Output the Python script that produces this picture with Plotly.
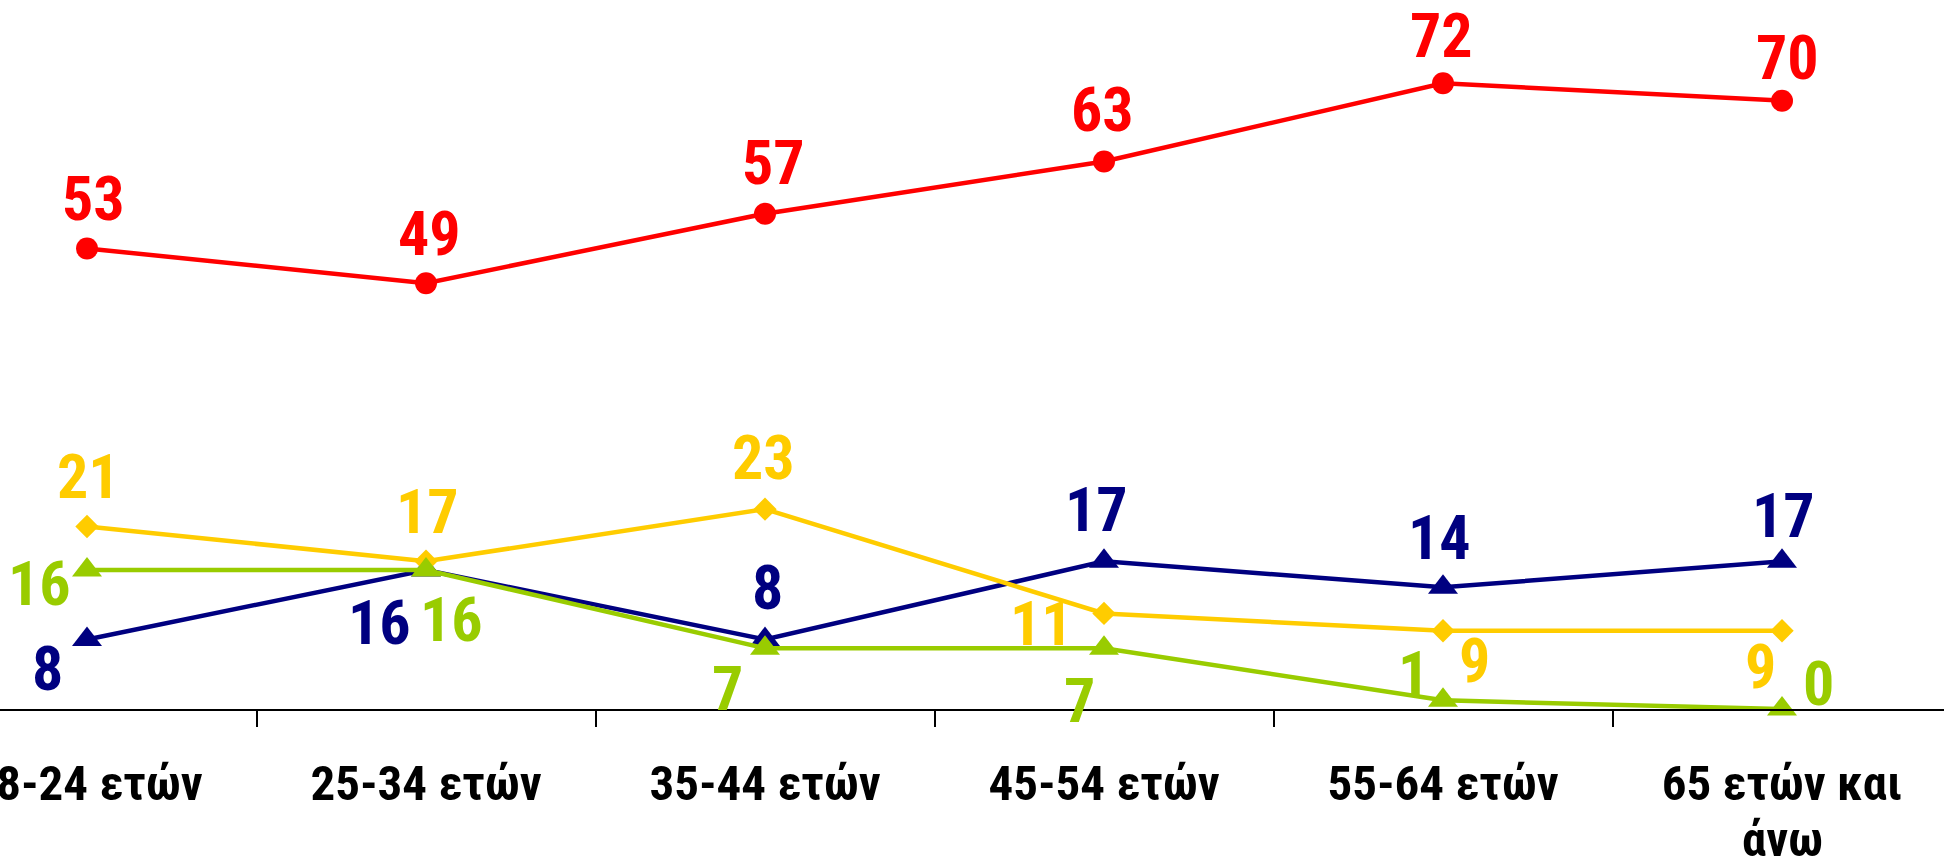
import plotly.graph_objects as go

# ---- data ----
age_groups = ["18-24 ετών", "25-34 ετών", "35-44 ετών", "45-54 ετών", "55-64 ετών", "65 ετών και άνω"]
tick_labels = ["18-24 ετών", "25-34 ετών", "35-44 ετών", "45-54 ετών", "55-64 ετών", "65 ετών και<br>άνω"]

red_values = [53, 49, 57, 63, 72, 70]
yellow_values = [21, 17, 23, 11, 9, 9]
navy_values = [8, 16, 8, 17, 14, 17]
green_values = [16, 16, 7, 7, 1, 0]

# ---- styles ----
FONT = "Liberation Sans Narrow, Arial Narrow, Roboto Condensed, DejaVu Sans Condensed, sans-serif"
TICK_SIZE = 49
series_styles = [
    # values, color, marker symbol, marker size, label offsets (dx, dy) in px
    (red_values, "#FF0000", "circle", 22,
     [(6, 50), (3, 50), (8, 51), (-2, 52), (-2, 48), (5, 43)]),
    (navy_values, "#000080", "triangle-up", 26,
     [(-40, -29), (-47, -53), (2, 52), (-8, 52), (-4, 50), (1, 46)]),
    (yellow_values, "#FFCC00", "diamond", 18,
     [(1, 50), (1, 50), (-2, 52), (-63, -10), (31, -30), (-22, -36)]),
    (green_values, "#99CC00", "triangle-up", 26,
     [(-48, -14), (25, -50), (-38, -40), (-25, -52), (-30, 27), (36, 26)]),
]

fig = go.Figure()
annotations = []
for values, color, symbol, msize, offsets in series_styles:
    fig.add_trace(go.Scatter(
        x=age_groups, y=values, mode="lines+markers",
        line=dict(color=color, width=4.5),
        marker=dict(symbol=symbol, size=msize, color=color),
        cliponaxis=False, showlegend=False, hoverinfo="skip",
    ))
    for i, v in enumerate(values):
        dx, dy = offsets[i]
        annotations.append(dict(
            x=age_groups[i], y=v, xref="x", yref="y", text=str(v), showarrow=False,
            xshift=dx, yshift=dy, xanchor="center", yanchor="middle",
            font=dict(family=FONT, size=62, color=color, weight="bold"),
        ))

# first line of each category label goes on the axis, later lines as text below it
first_lines = [t.split("<br>")[0] for t in tick_labels]
LINE_GAP = 56
for cat, t in zip(age_groups, tick_labels):
    for k, extra in enumerate(t.split("<br>")[1:], start=1):
        annotations.append(dict(
            x=cat, y=0, xref="x", yref="y", text=extra, showarrow=False,
            xanchor="center", yanchor="middle",
            yshift=-(800 + k * LINE_GAP - 17 - 709),
            font=dict(family=FONT, size=TICK_SIZE, color="black", weight="bold"),
        ))

PX_PER_UNIT = 8.69
PLOT_BOTTOM = 709
CAT_STEP = 339
FIRST_CAT_X = 87
fig.update_layout(
    width=1944, height=865, autosize=False,
    margin=dict(l=0, r=0, t=0, b=865 - PLOT_BOTTOM, pad=0, autoexpand=False),
    paper_bgcolor="white", plot_bgcolor="white",
    annotations=annotations,
    xaxis=dict(
        type="category", automargin=False,
        range=[-FIRST_CAT_X / CAT_STEP, (1944 - FIRST_CAT_X) / CAT_STEP],
        tickmode="array", tickvals=age_groups, ticktext=first_lines,
        showgrid=False, zeroline=False,
        showline=True, linecolor="black", linewidth=2,
        ticks="outside", ticklen=16, tickwidth=2, tickcolor="black",
        tickson="boundaries",
        ticklabeloverflow="allow", ticklabelstandoff=30,
        tickfont=dict(family=FONT, size=TICK_SIZE, color="black", weight="bold"),
        fixedrange=True,
    ),
    yaxis=dict(
        range=[0, PLOT_BOTTOM / PX_PER_UNIT], visible=False, automargin=False,
        showgrid=False, zeroline=False, fixedrange=True,
    ),
)

fig.write_html("out.html", post_script="document.body.style.margin='0';",
               config={"displayModeBar": False})
